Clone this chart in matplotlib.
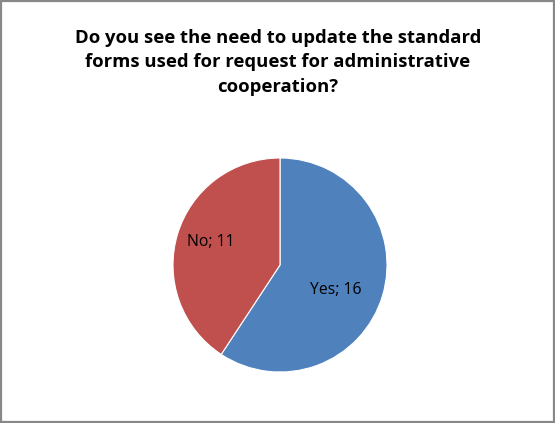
import matplotlib.pyplot as plt
from matplotlib.patches import Rectangle

labels = ["Yes", "No"]
counts = [16, 11]
colors = ["#4F81BD", "#C0504D"]
title = ("Do you see the need to update the standard\n"
         "forms used for request for administrative\n"
         "cooperation?")

W, H = 555, 423
fig = plt.figure(figsize=(W / 100, H / 100), dpi=100)

# border of the chart area
fig.patches.append(Rectangle((0.002, 0.002), 0.996, 0.995, transform=fig.transFigure,
                             fill=False, edgecolor="#888888", linewidth=1.6))

fig.text(0.501, 0.932, title, ha="center", va="top", fontsize=13.3,
         fontweight="bold", family="Open Sans", linespacing=1.46)

cx, cy, r = 280, 265, 107
ax = fig.add_axes([(cx - r) / W, (H - cy - r) / H, 2 * r / W, 2 * r / H])
ax.pie(counts, colors=colors, startangle=90, counterclock=False,
       wedgeprops=dict(edgecolor="white", linewidth=0.8))
ax.set_xlim(-1, 1)
ax.set_ylim(-1, 1)
ax.set_aspect("equal")

label_pos = [(0.52, -0.23), (-0.645, 0.215)]
for lab, n, (x, y) in zip(labels, counts, label_pos):
    ax.text(x, y, "{}; {}".format(lab, n), ha="center", va="center",
            fontsize=11.3, family="Open Sans")

fig.savefig("out.png", dpi=100)
